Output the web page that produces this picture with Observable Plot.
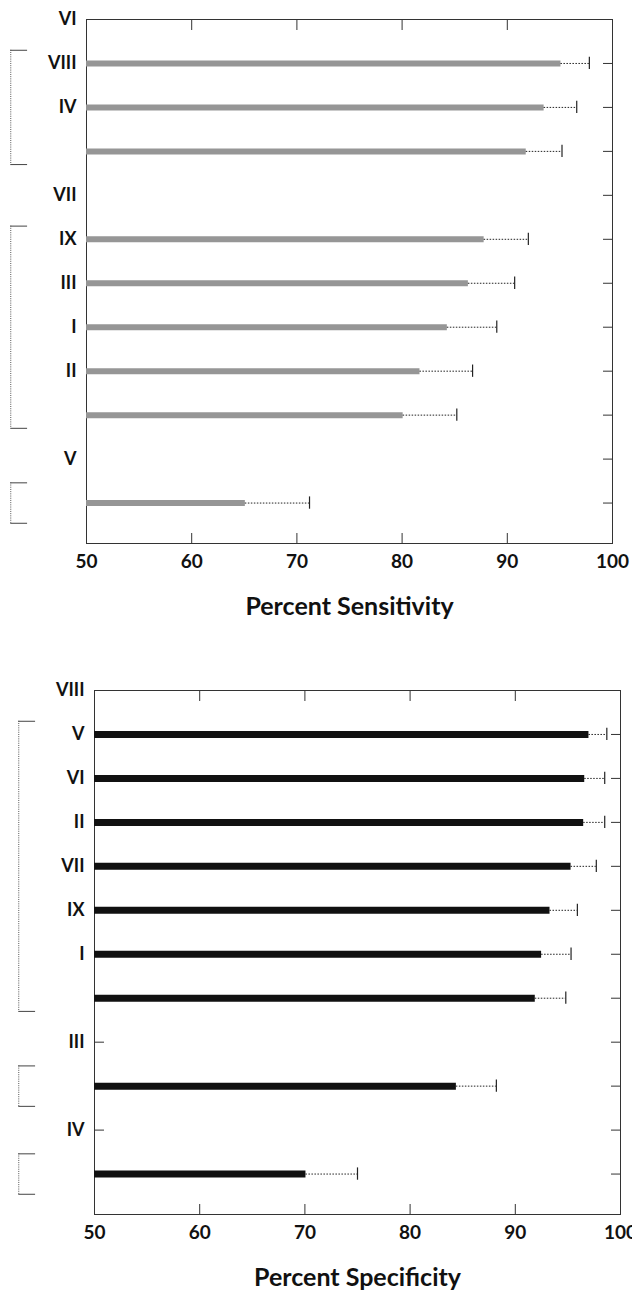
<!DOCTYPE html>
<html>
<head>
<meta charset="utf-8">
<script src="https://cdn.jsdelivr.net/npm/d3@7"></script>
<script src="https://cdn.jsdelivr.net/npm/@observablehq/plot@0.6"></script>
<style>
  html, body { margin: 0; padding: 0; background: #fff; }
  #chart { width: 632px; }
  #chart svg { display: block; }
</style>
</head>
<body>
<div id="chart"></div>
<script>
// ---- Data ----
const sensLabels = ["VI", "VIII", "IV", "", "VII", "IX", "III", "I", "II", "", "V", ""];
const sensValue  = [null, 95.1, 93.5, 91.8, null, 87.8, 86.3, 84.3, 81.7, 80.1, null, 65.1];
const sensUpper  = [null, 97.8, 96.6, 95.2, null, 92.0, 90.7, 89.0, 86.7, 85.2, null, 71.2];
const sensGroups = [[1, 3], [5, 9], [11, 11]];

const specLabels = ["VIII", "V", "VI", "II", "VII", "IX", "I", "", "III", "", "IV", ""];
const specValue  = [null, 97.0, 96.6, 96.5, 95.3, 93.3, 92.5, 91.9, null, 84.4, null, 70.1];
const specUpper  = [null, 98.7, 98.5, 98.5, 97.7, 95.9, 95.3, 94.8, null, 88.2, null, 75.0];
const specGroups = [[1, 7], [9, 9], [11, 11]];

const xTicks = [50, 60, 70, 80, 90, 100];
const innerXTicks = [60, 70, 80, 90];

function panel({labels, values, uppers, groups, title, barColor, barWidth, leftTicks,
                height, marginTop, marginBottom, marginLeft, marginRight}) {
  const rows = labels.map((label, i) => ({row: i, label, value: values[i], upper: uppers[i]}));
  const bars = rows.filter(d => d.value != null);
  const rowIdx = rows.map(d => d.row);
  const tickRows = rowIdx.filter(r => r > 0);
  const bx0 = 42.8, bx1 = 44.4; // bracket placement in the left margin
  const pad = g => (g[0] === g[1] ? 0.46 : 0.3);
  const font = {fontFamily: "Lato, 'DejaVu Sans', sans-serif", fontWeight: "bold"};
  const ink = "#333";
  return Plot.plot({
    width: 632,
    height, marginTop, marginBottom, marginLeft, marginRight,
    style: {background: "#fff", color: "#111", fontFamily: "Lato, 'DejaVu Sans', sans-serif"},
    x: {domain: [50, 100]},
    y: {domain: [0, 11.92], reverse: true},
    marks: [
      Plot.frame({stroke: ink, strokeWidth: 1}),
      Plot.axisX(innerXTicks, {anchor: "top", tickSize: -10, tickFormat: () => "", label: null, stroke: ink}),
      Plot.axisX(innerXTicks, {anchor: "bottom", tickSize: -10, tickFormat: () => "", label: null, stroke: ink}),
      Plot.axisY(tickRows, {anchor: "right", tickSize: -10, tickFormat: () => "", label: null, stroke: ink}),
      ...(leftTicks ? [Plot.ruleY(tickRows, {y: d => d, x1: 50, x2: 50.95, stroke: ink, strokeWidth: 1})] : []),
      Plot.axisX(xTicks, {anchor: "bottom", tickSize: 0, tickPadding: 11, label: null, fontSize: 19, ...font}),
      Plot.axisY(rowIdx, {anchor: "left", tickSize: 0, tickPadding: 10, label: null,
        tickFormat: i => labels[i], fontSize: 18, ...font}),
      Plot.ruleY(bars, {y: "row", x1: 50, x2: "value", stroke: barColor, strokeWidth: barWidth}),
      Plot.ruleY(bars, {y: "row", x1: "value", x2: "upper", stroke: "#222", strokeWidth: 1, strokeDasharray: "1.5,1.5"}),
      Plot.ruleX(bars, {x: "upper", y1: d => d.row - 0.14, y2: d => d.row + 0.14, stroke: "#222", strokeWidth: 1.2}),
      Plot.ruleX(groups, {x: bx0, y1: g => g[0] - pad(g), y2: g => g[1] + pad(g), stroke: "#555", strokeWidth: 1, strokeDasharray: "1,1.2"}),
      Plot.ruleY(groups, {y: g => g[0] - pad(g), x1: bx0, x2: bx1, stroke: "#444", strokeWidth: 1}),
      Plot.ruleY(groups, {y: g => g[1] + pad(g), x1: bx0, x2: bx1, stroke: "#444", strokeWidth: 1}),
      Plot.text([title], {frameAnchor: "bottom", dy: 63, text: d => d, fontSize: 25, lineAnchor: "middle", fill: "#111", ...font})
    ]
  });
}

const sensPlot = panel({
  labels: sensLabels, values: sensValue, uppers: sensUpper, groups: sensGroups,
  title: "Percent Sensitivity", barColor: "#969696", barWidth: 6, leftTicks: false,
  height: 640, marginTop: 19, marginBottom: 97, marginLeft: 86, marginRight: 20
});
const specPlot = panel({
  labels: specLabels, values: specValue, uppers: specUpper, groups: specGroups,
  title: "Percent Specificity", barColor: "#111", barWidth: 7, leftTicks: true,
  height: 651, marginTop: 50, marginBottom: 77, marginLeft: 94, marginRight: 12
});
document.getElementById("chart").append(sensPlot, specPlot);
</script>
</body>
</html>
